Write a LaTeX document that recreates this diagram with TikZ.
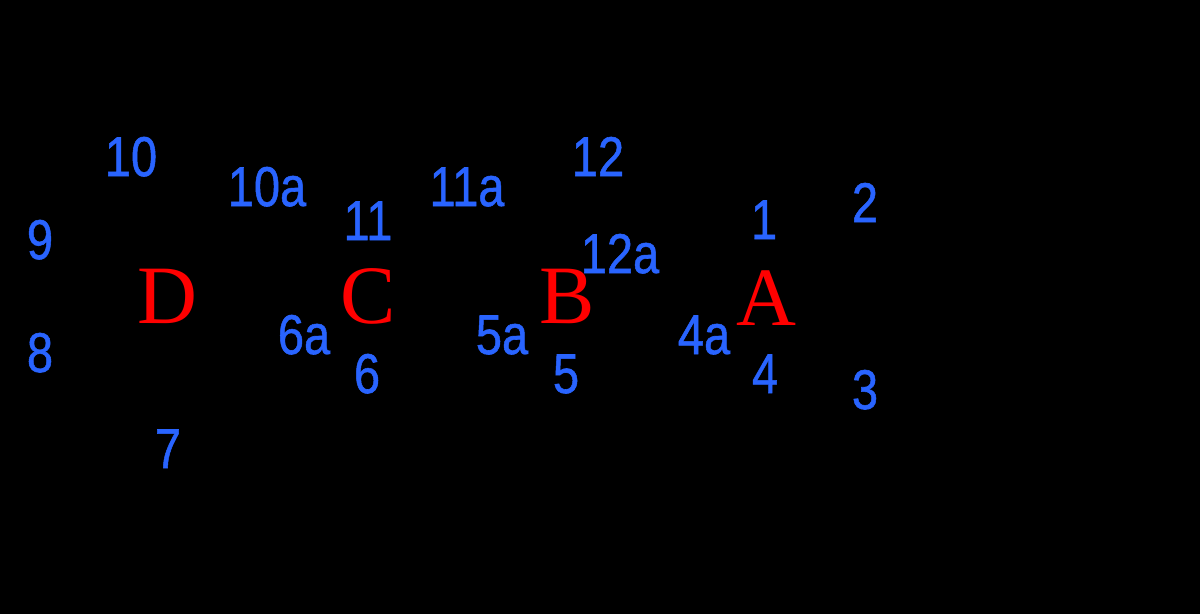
\documentclass[tikz,border=0pt]{standalone}
\usepackage{fontspec}
\setmainfont{Liberation Serif}
\newfontfamily\numfont[FakeBold=1]{Liberation Sans}
\definecolor{numblue}{RGB}{41,100,255}
\definecolor{ringred}{RGB}{255,0,0}
\begin{document}
\begin{tikzpicture}[x=1pt,y=-1pt,
  num/.style={inner sep=0pt,anchor=base,text=numblue,font=\numfont\fontsize{56}{60}\selectfont},
  ring/.style={inner sep=0pt,anchor=base,text=ringred,font=\fontsize{83}{86}\selectfont}]
\fill[black] (0,0) rectangle (1200,614);
\useasboundingbox (0,0) rectangle (1200,614);
% ring letters
\node[ring] (rD) at (167,323) {D};
\node[ring] (rC) at (368,323) {C};
\node[ring] (rB) at (567,323) {B};
\node[ring] (rA) at (766,325) {A};
% position numbers
\newcommand{\nx}[1]{\scalebox{0.84}[1]{#1}}
\node[num] (n10) at (131,176) {\nx{10}};
\node[num] (n10a) at (267,206) {\nx{10a}};
\node[num] (n9) at (40,259) {\nx{9}};
\node[num] (n11) at (368,240) {\nx{11}};
\node[num] (n6a) at (304,354) {\nx{6a}};
\node[num] (n8) at (40,372) {\nx{8}};
\node[num] (n6) at (367,393) {\nx{6}};
\node[num] (n7) at (168,468) {\nx{7}};
\node[num] (n11a) at (467,206) {\nx{11a}};
\node[num] (n12) at (598,176) {\nx{12}};
\node[num] (n12a) at (620,273) {\nx{12a}};
\node[num] (n5a) at (502,354) {\nx{5a}};
\node[num] (n5) at (566,393) {\nx{5}};
\node[num] (n1) at (764,239) {\nx{1}};
\node[num] (n2) at (865,222) {\nx{2}};
\node[num] (n4a) at (704,354) {\nx{4a}};
\node[num] (n4) at (765,393) {\nx{4}};
\node[num] (n3) at (865,409) {\nx{3}};
\end{tikzpicture}
\end{document}
